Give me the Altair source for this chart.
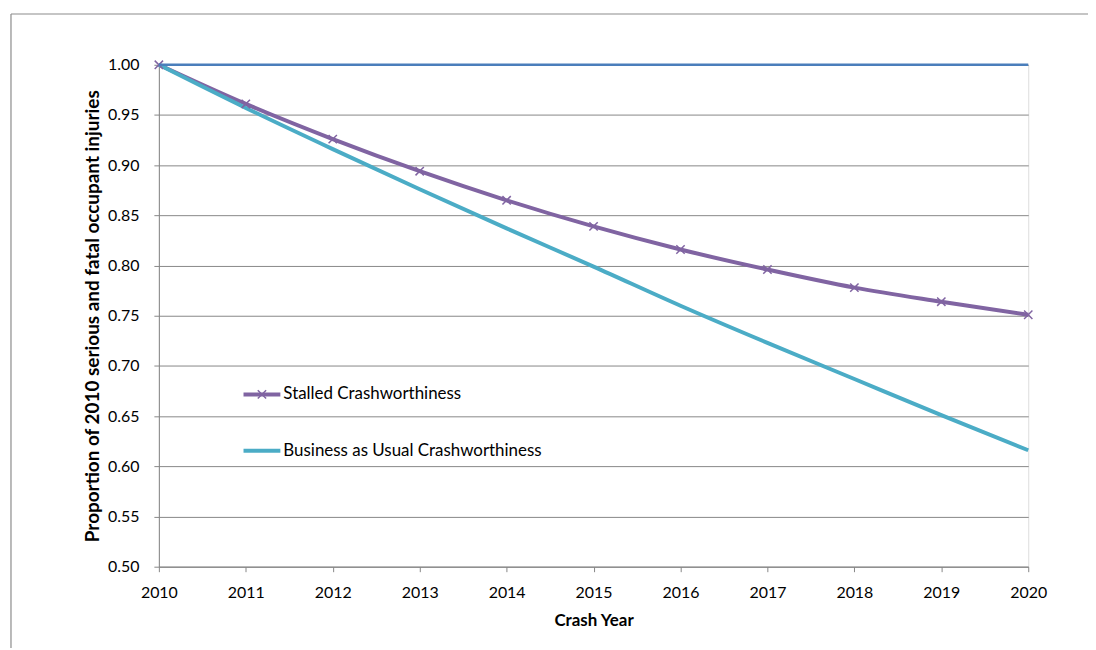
import altair as alt
import pandas as pd

years = list(range(2010, 2021))
stalled = [1.000, 0.961, 0.926, 0.894, 0.865, 0.839, 0.816, 0.796, 0.778, 0.764, 0.751]
business = [1.000, 0.957, 0.916, 0.876, 0.837, 0.799, 0.760, 0.723, 0.687, 0.651, 0.616]
baseline = [1.0] * 11
series_names = ["Baseline 2010", "Stalled Crashworthiness", "Business as Usual Crashworthiness"]
series_colors = ["#4A7EBB", "#8064A2", "#4BACC6"]
y_ticks = [0.50, 0.55, 0.60, 0.65, 0.70, 0.75, 0.80, 0.85, 0.90, 0.95, 1.00]

rows = []
for name, vals in zip(series_names, [baseline, stalled, business]):
    for yr, v in zip(years, vals):
        rows.append({"year": yr, "value": v, "series": name})
df = pd.DataFrame(rows)

FONT = "Lato"
W, H = 873, 504

xs = alt.Scale(domain=[2010, 2020], nice=False)
ys = alt.Scale(domain=[0.5, 1.0], nice=False)
cs = alt.Scale(domain=series_names, range=series_colors)

x_enc = alt.X("year:Q", scale=xs, title="Crash Year",
              axis=alt.Axis(values=years, format="d", grid=False, tickSize=5,
                            labelPadding=13, titlePadding=12, domainColor="#868686",
                            tickColor="#868686", labelFontSize=16, titleFontSize=17,
                            labelFlush=False, labelOverlap=False,
                            titleFontWeight="bold", labelColor="#000", titleColor="#000",
                            labelFont=FONT, titleFont=FONT))
y_enc = alt.Y("value:Q", scale=ys, title="Proportion of 2010 serious and fatal occupant injuries",
              axis=alt.Axis(values=y_ticks, format=".2f", grid=True, gridColor="#878787",
                            gridWidth=1, tickSize=5, labelPadding=15, titlePadding=5,
                            labelFlush=False, labelOverlap=False,
                            domainColor="#868686", tickColor="#868686", labelFontSize=16,
                            titleFontSize=19, titleFontWeight="bold", labelColor="#000",
                            titleColor="#000", labelFont=FONT, titleFont=FONT))

base = alt.Chart(df)

lines_main = base.transform_filter(alt.datum.series != "Baseline 2010").mark_line(
    strokeWidth=4, interpolate="monotone").encode(
    x=x_enc, y=y_enc,
    color=alt.Color("series:N", scale=cs, legend=None),
    detail="series:N")

baseline_line = base.transform_filter(alt.datum.series == "Baseline 2010").mark_line(
    strokeWidth=2.5).encode(
    x=alt.X("year:Q", scale=xs), y=alt.Y("value:Q", scale=ys),
    color=alt.Color("series:N", scale=cs, legend=None))

xpath = "M-1,-1L1,1M1,-1L-1,1"
markers = base.transform_filter(alt.datum.series == "Stalled Crashworthiness").mark_point(
    shape=xpath, size=70, strokeWidth=1.5, filled=False, opacity=1).encode(
    x=alt.X("year:Q", scale=xs), y=alt.Y("value:Q", scale=ys),
    color=alt.Color("series:N", scale=cs, legend=None))

# manual legend
leg_df = pd.DataFrame({"series": series_names[1:]})
leg1 = alt.Chart(leg_df).transform_filter(alt.datum.series == series_names[1])
leg2 = alt.Chart(leg_df).transform_filter(alt.datum.series == series_names[2])
l1_line = leg1.mark_rule(strokeWidth=4, color=series_colors[1]).encode(
    x=alt.value(85), x2=alt.value(122), y=alt.value(331))
l1_pt = leg1.mark_point(shape=xpath, size=70, strokeWidth=1.5, filled=False,
                        color=series_colors[1], opacity=1).encode(
    x=alt.value(103.5), y=alt.value(331))
l1_txt = leg1.mark_text(align="left", baseline="middle", font=FONT, fontSize=17, color="#000").encode(
    x=alt.value(125), y=alt.value(331), text="series:N")
l2_line = leg2.mark_rule(strokeWidth=4, color=series_colors[2]).encode(
    x=alt.value(85), x2=alt.value(122), y=alt.value(387.5))
l2_txt = leg2.mark_text(align="left", baseline="middle", font=FONT, fontSize=17, color="#000").encode(
    x=alt.value(125), y=alt.value(387.5), text="series:N")

# outer frame (top and left edges visible in the reference)
frame_df = pd.DataFrame({"k": [1]})
frame_top = alt.Chart(frame_df).mark_rule(color="#8c8c8c", strokeWidth=1.2).encode(
    x=alt.value(-148.5), x2=alt.value(940), y=alt.value(-51))
frame_left = alt.Chart(frame_df).mark_rule(color="#8c8c8c", strokeWidth=1.2).encode(
    x=alt.value(-148.5), y=alt.value(-51), y2=alt.value(590))

chart = alt.layer(
    frame_top, frame_left, lines_main, markers, baseline_line,
    l1_line, l1_pt, l1_txt, l2_line, l2_txt
).properties(
    width=W, height=H,
    autosize=alt.AutoSizeParams(type="none"),
    padding={"left": 151.5, "top": 55.7, "right": 60, "bottom": 80},
).configure_view(stroke=None).configure(background="white")

chart.save("out.html", embed_options={"renderer": "svg", "actions": False})
